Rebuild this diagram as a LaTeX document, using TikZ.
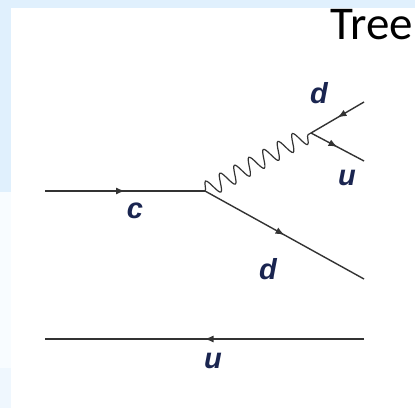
\documentclass[tikz,border=0pt]{standalone}
\usepackage{fontspec}
\setmainfont{Liberation Sans}
\newfontfamily\titlefont{Carlito}
\usetikzlibrary{positioning,arrows.meta,decorations.markings,decorations.pathmorphing}
\definecolor{slideblue}{HTML}{E0F0FD}
\definecolor{paleblue}{HTML}{EFF7FE}
\definecolor{stripwhite}{HTML}{F8FCFF}
\definecolor{linegrey}{HTML}{333333}
\definecolor{labelblue}{HTML}{1A2550}

\begin{document}
\begin{tikzpicture}[x=1pt,y=-1pt,
  fermion/.style={draw=linegrey,line width=1.4pt,postaction={decorate},
    decoration={markings,mark=at position 0.5 with {\arrow{Latex[length=9pt,width=7pt]}}}},
  boson/.style={draw=linegrey,line width=1.2pt,decorate,
    decoration={snake,segment length=16.5pt,amplitude=8.5pt}},
  lbl/.style={font=\fontsize{29}{29}\selectfont\bfseries\itshape,text=labelblue,inner sep=0pt}]

\useasboundingbox (0,0) rectangle (415,408);
% slide background
\fill[slideblue] (0,0) rectangle (415,8);
\fill[slideblue] (0,0) rectangle (11,192);
\fill[stripwhite] (0,192) rectangle (11,368);
\fill[paleblue] (0,368) rectangle (11,408);
\fill[white] (11,8) rectangle (415,408);

\node (tree) at (413,39) [anchor=base east,inner sep=0pt,font=\titlefont\fontsize{47}{47}\selectfont]{Tree};

% vertices and free ends
\coordinate (cin) at (45,191);
\coordinate (v1) at (205,191);
\coordinate (v2) at (311,133);
\coordinate (dout) at (364,279);
\coordinate (din) at (364,102);
\coordinate (uout) at (364,161);
\coordinate (ubin) at (364,339);
\coordinate (ubout) at (45,339);

\draw[fermion] (cin) -- (v1);
\draw[fermion] (v1) -- (dout);
\draw[boson] (v1) -- (v2);
\draw[fermion] (din) -- (v2);
\draw[fermion] (v2) -- (uout);
\draw[fermion] (ubin) -- (ubout);

\node (c) at (135,211) [lbl]{c};
\node (d1) at (268,269) [lbl]{d};
\node (u1) at (213,361) [lbl]{u};
\node (d2) at (319,93) [lbl]{d};
\node (u2) at (347,178) [lbl]{u};
\end{tikzpicture}
\end{document}
